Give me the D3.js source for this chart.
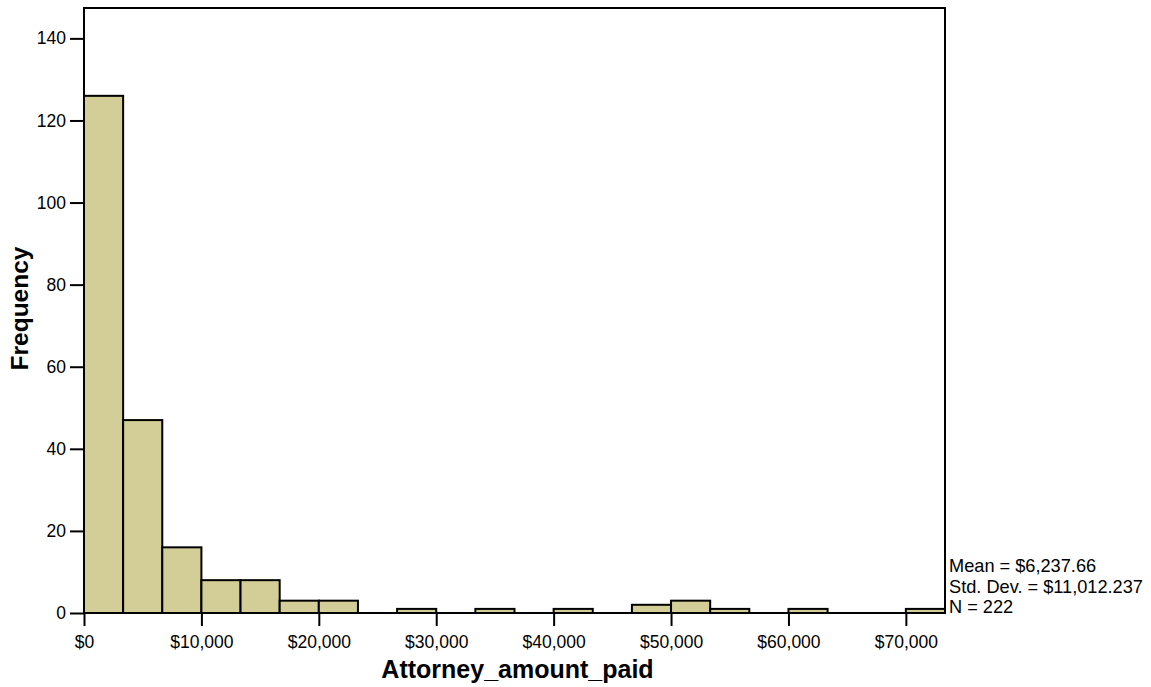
<!DOCTYPE html>
<html>
<head>
<meta charset="utf-8">
<script src="https://cdn.jsdelivr.net/npm/d3@7"></script>
<style>
  html, body { margin: 0; padding: 0; background: #fff; overflow: hidden; }
  svg { display: block; overflow: visible; }
</style>
</head>
<body>
<svg id="chart" width="1151" height="687"></svg>
<script>
const binWidth = 10000 / 3;
const binCounts = [126, 47, 16, 8, 8, 3, 3, 0, 1, 0, 1, 0, 1, 0, 2, 3, 1, 0, 1, 0, 0, 1];
const xTicks = [0, 10000, 20000, 30000, 40000, 50000, 60000, 70000];
const yTicks = [0, 20, 40, 60, 80, 100, 120, 140];
const statLines = ['Mean = $6,237.66', 'Std. Dev. = $11,012.237', 'N = 222'];

const fontFamily = '"Liberation Sans", Arial, sans-serif';
const margin = { top: 8, right: 206, bottom: 74, left: 84 };
const width = 1151;
const height = 687;
const innerWidth = width - margin.left - margin.right;
const innerHeight = height - margin.top - margin.bottom;

const svg = d3.select('#chart').attr('font-family', fontFamily);
const chart = svg.append('g').attr('transform', `translate(${margin.left}, ${margin.top})`);

const bins = binCounts.map((count, i) => ({ x0: i * binWidth, x1: (i + 1) * binWidth, count }));

const x = d3.scaleLinear().domain([0, binWidth * binCounts.length]).range([0, innerWidth]);
const y = d3.scaleLinear().domain([0, 147.4]).range([innerHeight, 0]);

// bars
chart.selectAll('.bar')
  .data(bins.filter((b) => b.count > 0))
  .join('rect')
  .attr('class', 'bar')
  .attr('x', (b) => x(b.x0))
  .attr('y', (b) => y(b.count))
  .attr('width', (b) => x(b.x1) - x(b.x0))
  .attr('height', (b) => y(0) - y(b.count))
  .attr('fill', '#d3ce97')
  .attr('stroke', '#000')
  .attr('stroke-width', 2);

// frame
chart.append('rect')
  .attr('width', innerWidth)
  .attr('height', innerHeight)
  .attr('fill', 'none')
  .attr('stroke', '#000')
  .attr('stroke-width', 2);

// axes
const dollar = d3.format('$,');
const xAxis = chart.append('g')
  .attr('transform', `translate(0, ${innerHeight})`)
  .call(d3.axisBottom(x).tickValues(xTicks).tickFormat(dollar).tickSize(13).tickPadding(9.3));

const yAxis = chart.append('g')
  .call(d3.axisLeft(y).tickValues(yTicks).tickSize(14).tickPadding(4));

[xAxis, yAxis].forEach((g) => {
  g.attr('font-family', fontFamily).attr('font-size', 17.5);
  g.select('.domain').remove();
  g.selectAll('.tick line').attr('stroke', '#000').attr('stroke-width', 2);
  g.selectAll('.tick text').attr('fill', '#000');
});

// axis titles
svg.append('text')
  .attr('x', margin.left + innerWidth / 2 + 3)
  .attr('y', 678)
  .attr('text-anchor', 'middle')
  .attr('font-weight', 'bold')
  .attr('font-size', 25)
  .text('Attorney_amount_paid');

svg.append('text')
  .attr('transform', `translate(28, ${margin.top + innerHeight / 2 - 2}) rotate(-90)`)
  .attr('text-anchor', 'middle')
  .attr('font-weight', 'bold')
  .attr('font-size', 24.5)
  .text('Frequency');

// statistics box
svg.append('g')
  .selectAll('text')
  .data(statLines)
  .join('text')
  .attr('x', margin.left + innerWidth + 4)
  .attr('y', (d, i) => 572 + i * 20.5)
  .attr('font-size', 18.2)
  .text((d) => d);
</script>
</body>
</html>
